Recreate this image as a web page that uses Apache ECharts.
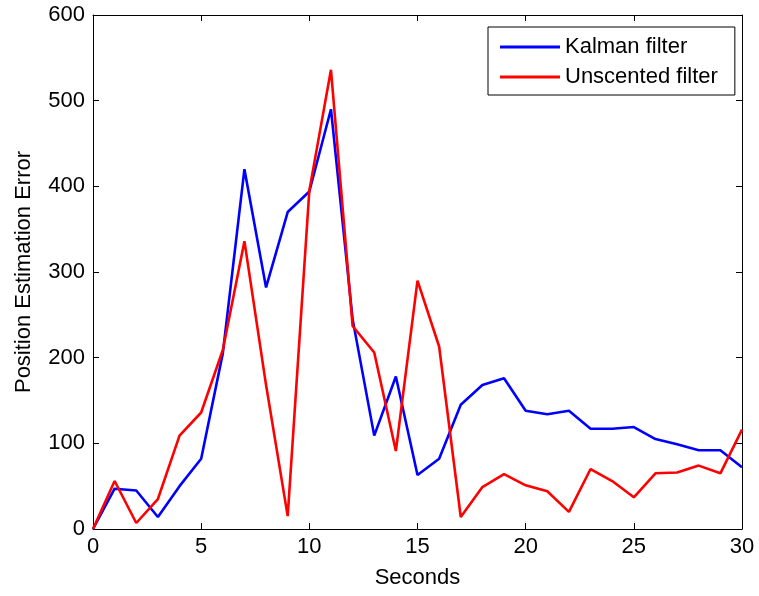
<!DOCTYPE html>
<html>
<head>
<meta charset="utf-8">
<script src="https://cdn.jsdelivr.net/npm/echarts@6/dist/echarts.min.js"></script>
<style>
  html, body { margin: 0; padding: 0; background: #fff; }
  #chart { width: 759px; height: 596px; }
</style>
</head>
<body>
<div id="chart"></div>
<script>
// time in seconds
var seconds = [];
for (var s = 0; s <= 30; s++) seconds.push(s);

// position estimation error
var kalman = [0, 47, 45, 14, 50, 82, 205, 420, 282, 370, 394, 490, 245, 109, 178, 63,
              82, 145, 168, 176, 138, 134, 138, 117, 117, 119, 105, 99, 92, 92, 72];
var unscented = [0, 56, 7, 35, 109, 136, 209, 336, 168, 15, 395, 536, 237, 206, 91, 290,
                 213, 14, 49, 64, 51, 44, 20, 70, 56, 37, 65, 66, 74, 65, 116];

var xTicks = [0, 5, 10, 15, 20, 25, 30];
var yTicks = [0, 100, 200, 300, 400, 500, 600];

function pairs(vals) {
    return vals.map(function (v, i) { return [seconds[i], v]; });
}

var chart = echarts.init(document.getElementById('chart'));
var font = 'Liberation Sans, Arial, Helvetica, sans-serif';

var axisCommon = {
    type: 'value',
    axisLine: { show: true, onZero: false, lineStyle: { color: '#000', width: 1 } },
    axisTick: { show: true, inside: true, length: 6, lineStyle: { color: '#000' } },
    splitLine: { show: false }
};

option = {
    animation: false,
    backgroundColor: '#fff',
    grid: { left: 93, right: 17, top: 15, bottom: 67 },
    legend: {
        orient: 'vertical',
        left: 488,
        top: 27,
        data: ['Kalman filter', 'Unscented filter'],
        icon: 'rect',
        itemWidth: 60,
        itemHeight: 3,
        itemGap: 8,
        padding: [9, 17, 7, 12],
        borderColor: '#000',
        borderWidth: 1,
        borderRadius: 0,
        backgroundColor: '#fff',
        textStyle: { fontFamily: font, fontSize: 22, color: '#000' }
    },
    xAxis: [
        Object.assign({}, axisCommon, {
            min: 0, max: 30, interval: 5,
            name: 'Seconds',
            nameLocation: 'middle',
            nameGap: 38,
            nameTextStyle: { fontFamily: font, fontSize: 22, color: '#000' },
            axisLabel: {
                fontFamily: font, fontSize: 22, color: '#000', margin: 7,
                formatter: function (v) { return xTicks.indexOf(v) >= 0 ? String(v) : ''; }
            }
        }),
        Object.assign({}, axisCommon, {
            min: 0, max: 30, interval: 5, position: 'top',
            axisLabel: { show: false }
        })
    ],
    yAxis: [
        Object.assign({}, axisCommon, {
            min: 0, max: 600, interval: 100,
            name: 'Position Estimation Error',
            nameLocation: 'middle',
            nameGap: 58,
            nameTextStyle: { fontFamily: font, fontSize: 22, color: '#000' },
            axisLabel: {
                fontFamily: font, fontSize: 22, color: '#000', margin: 8,
                formatter: function (v) { return yTicks.indexOf(v) >= 0 ? String(v) : ''; }
            }
        }),
        Object.assign({}, axisCommon, {
            min: 0, max: 600, interval: 100, position: 'right',
            axisLabel: { show: false }
        })
    ],
    series: [
        {
            name: 'Kalman filter',
            type: 'line',
            color: '#0000ff',
            symbol: 'none',
            lineStyle: { color: '#0000ff', width: 2.6 },
            data: pairs(kalman)
        },
        {
            name: 'Unscented filter',
            type: 'line',
            color: '#ff0000',
            symbol: 'none',
            lineStyle: { color: '#ff0000', width: 2.6 },
            data: pairs(unscented)
        }
    ]
};

chart.setOption(option);
</script>
</body>
</html>
